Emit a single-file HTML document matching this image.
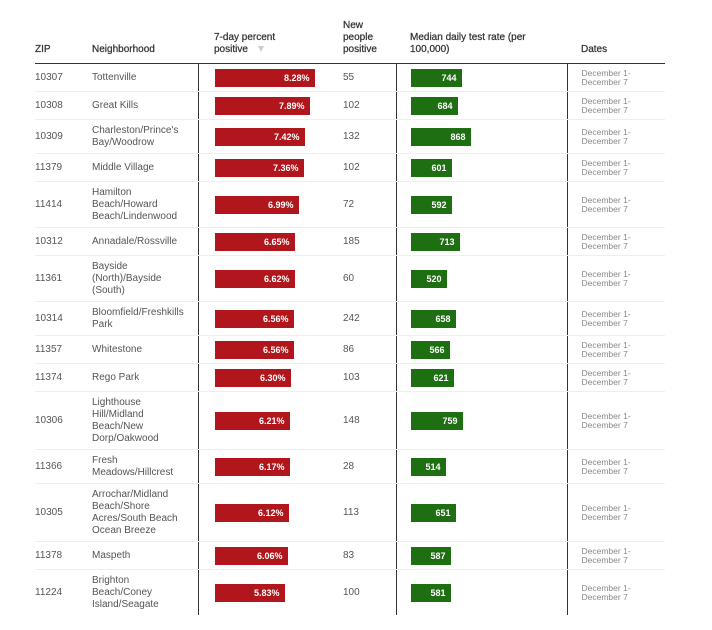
<!DOCTYPE html>
<html><head><meta charset="utf-8">
<style>
body{margin:0;background:#fff;width:712px;height:630px;overflow:hidden;font-family:"Liberation Sans",Arial,sans-serif;}
table{position:absolute;left:35px;top:0;border-collapse:collapse;table-layout:fixed;width:630px;}
th{font-size:10px;font-weight:normal;color:#333;text-align:left;vertical-align:bottom;padding:0 0 7px 0;line-height:12px;border-bottom:1.5px solid #333;-webkit-text-stroke:0.25px #333;}
td{font-size:10px;color:#555;line-height:12px;padding:5px 0 4px 0;vertical-align:middle;border-bottom:1px solid #eee;white-space:nowrap;}
tr:last-child td{border-bottom:none;}
.v{border-left:1px solid #333;}
.p1{padding-left:16px;}
.p2{padding-left:8px;}
.p3{padding-left:14px;}
.p4{padding-left:14px;}
.bar{height:18px;color:#fff;font-size:9px;font-weight:bold;text-align:right;line-height:18px;box-sizing:border-box;padding-right:5px;}
.r{background:#b0161b;}
.g{background:#1e6e12;}
.d{font-size:8.5px;color:#888;line-height:9px;}
.tri{display:inline-block;width:0;height:0;border-left:3.5px solid transparent;border-right:3.5px solid transparent;border-top:6px solid #ccc;margin-left:10px;vertical-align:middle;}
</style></head><body>
<table>
<colgroup><col style="width:57px"><col style="width:106px"><col style="width:137px"><col style="width:61px"><col style="width:171px"><col style="width:98px"></colgroup>
<thead><tr style="height:63px">
<th>ZIP</th><th>Neighborhood</th><th class="p1">7-day percent<br>positive<span class="tri"></span></th><th class="p2">New<br>people<br>positive</th><th class="p3">Median daily test rate (per<br>100,000)</th><th class="p4">Dates</th></tr></thead>
<tbody>
<tr><td>10307</td><td>Tottenville</td><td class="v p1"><div class="bar r" style="width:100px">8.28%</div></td><td class="p2">55</td><td class="v p3"><div class="bar g" style="width:51px">744</div></td><td class="v p4 d">December 1-<br>December 7</td></tr>
<tr><td>10308</td><td>Great Kills</td><td class="v p1"><div class="bar r" style="width:95px">7.89%</div></td><td class="p2">102</td><td class="v p3"><div class="bar g" style="width:47px">684</div></td><td class="v p4 d">December 1-<br>December 7</td></tr>
<tr><td>10309</td><td>Charleston/Prince's<br>Bay/Woodrow</td><td class="v p1"><div class="bar r" style="width:90px">7.42%</div></td><td class="p2">132</td><td class="v p3"><div class="bar g" style="width:60px">868</div></td><td class="v p4 d">December 1-<br>December 7</td></tr>
<tr><td>11379</td><td>Middle Village</td><td class="v p1"><div class="bar r" style="width:89px">7.36%</div></td><td class="p2">102</td><td class="v p3"><div class="bar g" style="width:41px">601</div></td><td class="v p4 d">December 1-<br>December 7</td></tr>
<tr><td>11414</td><td>Hamilton<br>Beach/Howard<br>Beach/Lindenwood</td><td class="v p1"><div class="bar r" style="width:84px">6.99%</div></td><td class="p2">72</td><td class="v p3"><div class="bar g" style="width:41px">592</div></td><td class="v p4 d">December 1-<br>December 7</td></tr>
<tr><td>10312</td><td>Annadale/Rossville</td><td class="v p1"><div class="bar r" style="width:80px">6.65%</div></td><td class="p2">185</td><td class="v p3"><div class="bar g" style="width:49px">713</div></td><td class="v p4 d">December 1-<br>December 7</td></tr>
<tr><td>11361</td><td>Bayside<br>(North)/Bayside<br>(South)</td><td class="v p1"><div class="bar r" style="width:80px">6.62%</div></td><td class="p2">60</td><td class="v p3"><div class="bar g" style="width:36px">520</div></td><td class="v p4 d">December 1-<br>December 7</td></tr>
<tr><td>10314</td><td>Bloomfield/Freshkills<br>Park</td><td class="v p1"><div class="bar r" style="width:79px">6.56%</div></td><td class="p2">242</td><td class="v p3"><div class="bar g" style="width:45px">658</div></td><td class="v p4 d">December 1-<br>December 7</td></tr>
<tr><td>11357</td><td>Whitestone</td><td class="v p1"><div class="bar r" style="width:79px">6.56%</div></td><td class="p2">86</td><td class="v p3"><div class="bar g" style="width:39px">566</div></td><td class="v p4 d">December 1-<br>December 7</td></tr>
<tr><td>11374</td><td>Rego Park</td><td class="v p1"><div class="bar r" style="width:76px">6.30%</div></td><td class="p2">103</td><td class="v p3"><div class="bar g" style="width:43px">621</div></td><td class="v p4 d">December 1-<br>December 7</td></tr>
<tr><td>10306</td><td>Lighthouse<br>Hill/Midland<br>Beach/New<br>Dorp/Oakwood</td><td class="v p1"><div class="bar r" style="width:75px">6.21%</div></td><td class="p2">148</td><td class="v p3"><div class="bar g" style="width:52px">759</div></td><td class="v p4 d">December 1-<br>December 7</td></tr>
<tr><td>11366</td><td>Fresh<br>Meadows/Hillcrest</td><td class="v p1"><div class="bar r" style="width:75px">6.17%</div></td><td class="p2">28</td><td class="v p3"><div class="bar g" style="width:35px">514</div></td><td class="v p4 d">December 1-<br>December 7</td></tr>
<tr><td>10305</td><td>Arrochar/Midland<br>Beach/Shore<br>Acres/South Beach<br>Ocean Breeze</td><td class="v p1"><div class="bar r" style="width:74px">6.12%</div></td><td class="p2">113</td><td class="v p3"><div class="bar g" style="width:45px">651</div></td><td class="v p4 d">December 1-<br>December 7</td></tr>
<tr><td>11378</td><td>Maspeth</td><td class="v p1"><div class="bar r" style="width:73px">6.06%</div></td><td class="p2">83</td><td class="v p3"><div class="bar g" style="width:40px">587</div></td><td class="v p4 d">December 1-<br>December 7</td></tr>
<tr><td>11224</td><td>Brighton<br>Beach/Coney<br>Island/Seagate</td><td class="v p1"><div class="bar r" style="width:70px">5.83%</div></td><td class="p2">100</td><td class="v p3"><div class="bar g" style="width:40px">581</div></td><td class="v p4 d">December 1-<br>December 7</td></tr>
</tbody></table>
</body></html>
